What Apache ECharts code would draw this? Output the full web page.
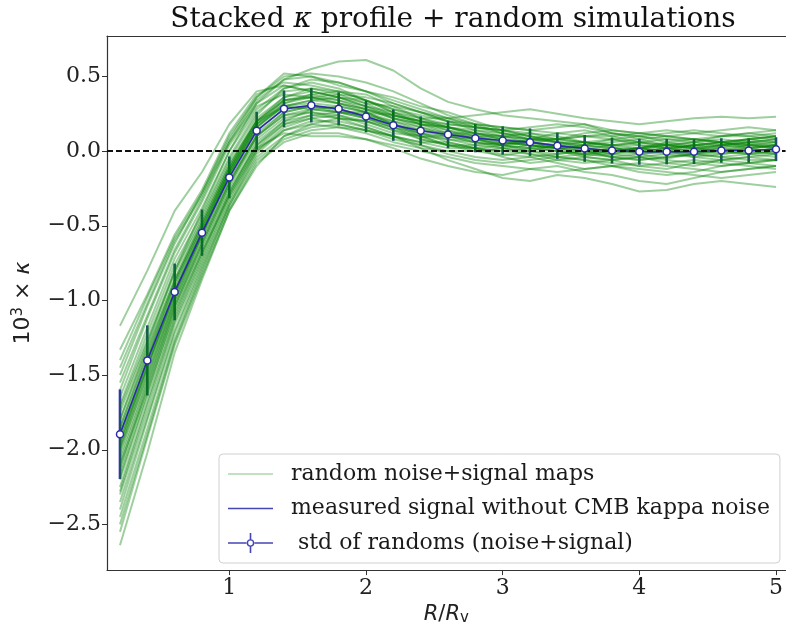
<!DOCTYPE html>
<html>
<head>
<meta charset="utf-8">
<script src="https://cdn.jsdelivr.net/npm/echarts@6/dist/echarts.min.js"></script>
<style>
html,body{margin:0;padding:0;background:#fff;}
#chart{width:786px;height:631px;}
</style>
</head>
<body>
<div id="chart"></div>
<script>
// ---------------- data ----------------
const xVals = [0.2,0.4,0.6,0.8,1.0,1.2,1.4,1.6,1.8,2.0,2.2,2.4,2.6,2.8,3.0,3.2,3.4,3.6,3.8,4.0,4.2,4.4,4.6,4.8,5.0];
const measured = [-1.896,-1.402,-0.943,-0.546,-0.176,0.136,0.283,0.307,0.283,0.232,0.174,0.136,0.111,0.087,0.071,0.060,0.036,0.018,0.004,-0.004,-0.004,-0.004,0.004,0.004,0.013];
const stdRandoms = [0.30,0.235,0.19,0.155,0.14,0.127,0.123,0.115,0.111,0.106,0.105,0.097,0.092,0.095,0.095,0.092,0.088,0.09,0.087,0.087,0.085,0.083,0.082,0.082,0.08];
const randomMaps = [
 [-1.17,-0.80,-0.40,-0.14,0.18,0.40,0.44,0.40,0.36,0.30,0.22,0.18,0.14,0.08,0.05,0.06,0.02,-0.03,-0.02,0.02,0.05,0.03,0.00,0.04,0.06],
 [-2.64,-2.02,-1.35,-0.86,-0.40,-0.10,0.10,0.18,0.22,0.20,0.16,0.10,0.04,0.00,-0.03,0.00,0.04,0.06,0.03,-0.02,-0.05,-0.02,0.03,0.05,0.02],
 [-1.80,-1.30,-0.80,-0.40,0.00,0.32,0.48,0.55,0.60,0.61,0.54,0.42,0.33,0.28,0.24,0.22,0.20,0.18,0.12,0.10,0.12,0.14,0.12,0.10,0.12],
 [-2.10,-1.60,-1.08,-0.68,-0.30,0.02,0.12,0.10,0.10,0.08,0.02,-0.05,-0.10,-0.14,-0.16,-0.12,-0.10,-0.14,-0.16,-0.20,-0.22,-0.18,-0.14,-0.12,-0.10],
 [-1.95,-1.40,-0.92,-0.52,-0.12,0.20,0.34,0.36,0.34,0.30,0.26,0.22,0.22,0.24,0.26,0.28,0.25,0.22,0.20,0.18,0.20,0.22,0.23,0.22,0.23],
 [-2.00,-1.50,-1.00,-0.60,-0.20,0.10,0.24,0.26,0.22,0.16,0.10,0.02,-0.06,-0.12,-0.18,-0.20,-0.16,-0.18,-0.22,-0.27,-0.26,-0.22,-0.20,-0.22,-0.24],
 [-1.70,-1.22,-0.76,-0.42,-0.04,0.26,0.40,0.42,0.38,0.32,0.24,0.18,0.16,0.12,0.10,0.12,0.10,0.06,0.04,0.06,0.08,0.06,0.04,0.06,0.08],
 [-2.25,-1.68,-1.12,-0.70,-0.28,0.06,0.20,0.24,0.22,0.20,0.14,0.10,0.08,0.04,0.02,0.00,-0.02,0.00,-0.04,-0.06,-0.04,-0.02,0.00,-0.02,-0.04],
 [-1.88,-1.38,-0.88,-0.50,-0.12,0.18,0.30,0.34,0.36,0.34,0.28,0.22,0.18,0.16,0.14,0.10,0.06,0.04,0.06,0.08,0.10,0.08,0.06,0.08,0.10],
 [-2.05,-1.52,-1.00,-0.58,-0.20,0.12,0.26,0.30,0.28,0.22,0.18,0.12,0.08,0.06,0.04,0.02,0.00,-0.02,-0.04,-0.02,0.00,0.02,0.00,-0.02,0.00],
 [-1.60,-1.12,-0.68,-0.34,0.04,0.30,0.38,0.36,0.32,0.28,0.22,0.16,0.10,0.06,0.04,0.08,0.12,0.14,0.10,0.06,0.02,0.00,0.04,0.08,0.10],
 [-2.30,-1.74,-1.16,-0.74,-0.32,0.00,0.16,0.22,0.24,0.20,0.14,0.08,0.04,0.02,0.00,0.02,0.04,0.02,-0.02,-0.04,-0.08,-0.10,-0.06,-0.04,-0.06],
 [-1.92,-1.44,-0.96,-0.56,-0.16,0.16,0.32,0.38,0.40,0.38,0.30,0.22,0.16,0.10,0.06,0.04,0.02,0.04,0.08,0.10,0.06,0.04,0.06,0.04,0.02],
 [-2.15,-1.58,-1.04,-0.64,-0.24,0.08,0.22,0.26,0.24,0.18,0.12,0.10,0.10,0.08,0.04,0.00,-0.04,-0.06,-0.08,-0.10,-0.08,-0.06,-0.08,-0.10,-0.12],
 [-1.50,-1.04,-0.62,-0.28,0.10,0.36,0.52,0.50,0.46,0.40,0.34,0.28,0.22,0.18,0.16,0.14,0.12,0.10,0.10,0.12,0.14,0.12,0.10,0.12,0.14],
 [-2.45,-1.86,-1.26,-0.80,-0.36,-0.04,0.10,0.16,0.18,0.14,0.08,0.04,0.00,-0.04,-0.06,-0.04,-0.08,-0.12,-0.10,-0.08,-0.10,-0.12,-0.14,-0.12,-0.10],
 [-1.85,-1.34,-0.86,-0.48,-0.10,0.22,0.36,0.40,0.36,0.30,0.24,0.20,0.14,0.10,0.10,0.08,0.06,0.02,0.00,-0.02,0.00,0.04,0.06,0.04,0.04],
 [-2.02,-1.48,-0.98,-0.56,-0.16,0.14,0.28,0.30,0.26,0.24,0.20,0.14,0.10,0.08,0.06,0.04,0.02,0.04,0.02,0.00,0.02,0.04,0.02,0.04,0.02],
 [-1.75,-1.28,-0.82,-0.46,-0.08,0.20,0.30,0.28,0.26,0.26,0.24,0.20,0.16,0.12,0.08,0.06,0.08,0.10,0.08,0.04,0.02,0.04,0.06,0.08,0.06],
 [-2.18,-1.62,-1.06,-0.66,-0.26,0.04,0.20,0.28,0.30,0.26,0.18,0.12,0.06,0.02,-0.02,-0.04,-0.02,0.00,0.02,0.00,-0.02,-0.04,-0.02,0.00,-0.02],
 [-1.98,-1.44,-0.94,-0.54,-0.14,0.18,0.34,0.38,0.34,0.28,0.22,0.18,0.16,0.14,0.12,0.10,0.06,0.04,0.02,0.02,0.04,0.06,0.08,0.06,0.04],
 [-1.65,-1.18,-0.72,-0.38,0.00,0.28,0.42,0.46,0.42,0.34,0.26,0.18,0.12,0.08,0.04,0.02,0.00,-0.04,-0.06,-0.04,-0.02,0.00,0.02,0.00,-0.02],
 [-2.35,-1.78,-1.20,-0.76,-0.34,0.00,0.14,0.18,0.16,0.12,0.06,0.02,0.00,0.00,0.02,0.04,0.02,0.00,-0.02,0.00,0.02,0.00,-0.02,0.00,0.02],
 [-1.90,-1.40,-0.90,-0.52,-0.14,0.16,0.30,0.32,0.30,0.26,0.20,0.16,0.12,0.10,0.08,0.06,0.04,0.02,0.00,0.02,0.04,0.02,0.00,0.02,0.04],
 [-2.08,-1.54,-1.02,-0.62,-0.22,0.10,0.26,0.30,0.28,0.24,0.18,0.14,0.12,0.12,0.10,0.08,0.08,0.06,0.04,0.02,0.00,-0.02,0.00,0.02,0.04],
 [-1.80,-1.32,-0.86,-0.48,-0.10,0.20,0.34,0.36,0.32,0.26,0.18,0.10,0.04,0.02,0.00,-0.02,-0.04,-0.02,0.00,0.02,0.00,-0.02,-0.04,-0.02,0.00],
 [-1.33,-0.96,-0.56,-0.26,0.12,0.38,0.46,0.44,0.40,0.34,0.28,0.24,0.20,0.18,0.16,0.14,0.16,0.18,0.14,0.12,0.10,0.12,0.14,0.16,0.14],
 [-2.55,-1.92,-1.30,-0.84,-0.40,-0.08,0.06,0.12,0.12,0.08,0.04,0.00,-0.04,-0.08,-0.10,-0.12,-0.14,-0.12,-0.10,-0.12,-0.14,-0.16,-0.18,-0.16,-0.14],
 [-1.45,-1.02,-0.60,-0.30,0.06,0.34,0.48,0.50,0.44,0.40,0.36,0.30,0.26,0.20,0.14,0.10,0.08,0.10,0.12,0.08,0.04,0.06,0.10,0.12,0.10],
 [-2.40,-1.80,-1.22,-0.78,-0.36,-0.02,0.14,0.20,0.20,0.16,0.10,0.06,0.06,0.02,-0.04,-0.08,-0.06,-0.04,-0.06,-0.10,-0.12,-0.08,-0.06,-0.08,-0.06],
 [-1.72,-1.26,-0.80,-0.44,-0.06,0.24,0.42,0.48,0.46,0.40,0.32,0.26,0.22,0.16,0.12,0.08,0.06,0.06,0.08,0.06,0.04,0.02,0.04,0.06,0.08],
 [-2.20,-1.64,-1.10,-0.68,-0.28,0.04,0.18,0.22,0.18,0.14,0.10,0.06,0.02,0.02,0.04,0.06,0.04,0.00,-0.04,-0.06,-0.04,-0.02,-0.04,-0.06,-0.06],
 [-1.55,-1.10,-0.66,-0.32,0.06,0.32,0.44,0.40,0.36,0.32,0.30,0.26,0.20,0.16,0.14,0.16,0.18,0.16,0.12,0.10,0.08,0.08,0.10,0.10,0.08],
 [-2.50,-1.90,-1.28,-0.82,-0.38,-0.06,0.08,0.14,0.16,0.14,0.10,0.04,-0.02,-0.06,-0.08,-0.06,-0.04,-0.06,-0.10,-0.14,-0.16,-0.14,-0.10,-0.08,-0.10],
 [-1.95,-1.44,-0.94,-0.54,-0.14,0.18,0.32,0.36,0.38,0.36,0.32,0.26,0.20,0.14,0.10,0.06,0.02,0.00,0.00,0.02,0.06,0.08,0.06,0.02,0.00],
 [-1.85,-1.36,-0.88,-0.50,-0.12,0.20,0.36,0.42,0.40,0.34,0.26,0.20,0.18,0.16,0.14,0.12,0.08,0.06,0.04,0.04,0.02,0.04,0.04,0.02,0.04],
 [-2.12,-1.56,-1.04,-0.62,-0.22,0.10,0.24,0.28,0.26,0.22,0.16,0.08,0.04,0.04,0.06,0.04,0.00,-0.02,0.00,0.02,0.00,-0.04,-0.06,-0.04,-0.02],
 [-1.40,-0.98,-0.58,-0.28,0.08,0.36,0.50,0.52,0.50,0.46,0.40,0.32,0.24,0.18,0.12,0.08,0.08,0.12,0.14,0.12,0.10,0.08,0.06,0.08,0.10],
 [-2.28,-1.70,-1.14,-0.72,-0.30,0.02,0.18,0.24,0.26,0.22,0.16,0.12,0.10,0.06,0.02,-0.02,-0.06,-0.08,-0.06,-0.04,-0.06,-0.08,-0.10,-0.08,-0.06],
 [-1.98,-1.46,-0.96,-0.56,-0.16,0.16,0.30,0.34,0.32,0.28,0.24,0.20,0.16,0.12,0.08,0.04,0.02,0.02,0.04,0.06,0.04,0.02,0.04,0.06,0.06]
];
const xTicks = [1,2,3,4,5];
const yTicks = [-2.5,-2.0,-1.5,-1.0,-0.5,0.0,0.5];
const legendNames = ['random noise+signal maps','measured signal without CMB kappa noise',' std of randoms (noise+signal)'];

// ---------------- chart ----------------
const BLUE = '#2b2ba6';
const GREEN = '#008000';
const SERIF = "'DejaVu Serif', serif";
const SANS = "'DejaVu Sans', sans-serif";

const chart = echarts.init(document.getElementById('chart'), null, {renderer:'canvas'});

const errData = xVals.map((x,i)=>[x, measured[i], stdRandoms[i]]);
const series = [];
series.push({
  name: legendNames[2], type:'custom', z:1, silent:true,
  data: errData,
  renderItem: function(params, api){
    const x = api.value(0), y = api.value(1), e = api.value(2);
    const p1 = api.coord([x, y - e]);
    const p2 = api.coord([x, y + e]);
    return {type:'line', shape:{x1:p1[0], y1:p1[1], x2:p2[0], y2:p2[1]},
      style:{stroke: params.dataIndex === 0 ? '#3434b0' : '#1f4f70', lineWidth:2.6}};
  }
});
randomMaps.forEach(function(arr){
  series.push({
    name: legendNames[0], type:'line', z:2, silent:true, symbol:'none',
    data: xVals.map((x,i)=>[x, arr[i]]),
    lineStyle:{color:GREEN, width:2, opacity:0.38},
    itemStyle:{color:GREEN}
  });
});
series.push({
  name:'zero', type:'line', z:3, silent:true, symbol:'none', data:[],
  markLine:{symbol:['none','none'], silent:true, label:{show:false}, animation:false,
    lineStyle:{color:'#111', type:[6,3], width:1.8}, data:[{yAxis:0}]}
});
series.push({
  name: legendNames[1], type:'line', z:4, silent:true, symbol:'none',
  data: xVals.map((x,i)=>[x, measured[i]]),
  lineStyle:{color:BLUE, width:1.6}, itemStyle:{color:BLUE}
});
series.push({
  name: legendNames[2], type:'scatter', z:5, silent:true,
  data: xVals.map((x,i)=>[x, measured[i]]),
  symbol:'circle', symbolSize:7,
  itemStyle:{color:'#ffffff', borderColor:BLUE, borderWidth:1.5, opacity:1}
});

const ringIcon = 'path://M0,9.2 L19,9.2 L19,10.8 L0,10.8 Z M26,9.2 L45,9.2 L45,10.8 L26,10.8 Z M21.7,0 L23.3,0 L23.3,6.3 L21.7,6.3 Z M21.7,13.7 L23.3,13.7 L23.3,20 L21.7,20 Z M26.3,10 A3.8,3.8 0 1,0 18.7,10 A3.8,3.8 0 1,0 26.3,10 Z M24.9,10 A2.4,2.4 0 1,1 20.1,10 A2.4,2.4 0 1,1 24.9,10 Z';

const fmt = v => (v < 0 ? '\u2212' : '') + Math.abs(v).toFixed(1);

chart.setOption({
  animation:false,
  backgroundColor:'#ffffff',
  title:{
    text:'{n|Stacked }{k|κ}{n| profile + random simulations}',
    left:448, top:1, textAlign:'center',
    textStyle:{fontFamily:SERIF, fontSize:28, fontWeight:'normal', color:'#111',
      rich:{n:{fontFamily:SERIF, fontSize:28, color:'#111'}, k:{fontFamily:SERIF, fontSize:28, fontStyle:'italic', color:'#111'}}}
  },
  legend:{
    orient:'vertical', left:219, top:454, selectedMode:false,
    padding:[9,10,9,8], itemWidth:45, itemHeight:20, itemGap:12.5,
    backgroundColor:'rgba(255,255,255,0.85)', borderColor:'#d0d0d0', borderWidth:1, borderRadius:4,
    textStyle:{fontFamily:SERIF, fontSize:22, color:'#1a1a1a', padding:[0,0,0,13]},
    data:[
      {name:legendNames[0], itemStyle:{opacity:0}, lineStyle:{color:'#c2e1c2', width:2, opacity:1}},
      {name:legendNames[1], itemStyle:{opacity:0}, lineStyle:{color:'#4545b5', width:1.6, opacity:1}},
      {name:legendNames[2], icon:ringIcon, itemStyle:{color:'#4545b5', opacity:1}}
    ]
  },
  grid:{left:107, right:-4, top:36, bottom:60, containLabel:false},
  xAxis:[{
    type:'value', min:0.105, max:5.07,
    name:'{i|R}{n|/}{i|R}{s|v}', nameLocation:'middle', nameGap:32,
    nameTextStyle:{fontFamily:SANS, fontSize:21, color:'#222',
      rich:{i:{fontFamily:SANS, fontSize:21, fontStyle:'italic', color:'#222'},
            n:{fontFamily:SANS, fontSize:21, color:'#222'},
            s:{fontFamily:SANS, fontSize:15, color:'#222', padding:[8,0,0,0]}}},
    axisLine:{show:true, onZero:false, lineStyle:{color:'#333', width:1.2}},
    axisTick:{show:true, length:5, inside:false, lineStyle:{color:'#333'}, customValues:xTicks},
    axisLabel:{fontFamily:SERIF, fontSize:22, color:'#222', margin:7, customValues:xTicks, formatter:v=>String(v)},
    splitLine:{show:false}
  },{
    type:'value', position:'top', min:0.105, max:5.07,
    axisLine:{show:true, onZero:false, lineStyle:{color:'#333', width:1.2}},
    axisTick:{show:false}, axisLabel:{show:false}, splitLine:{show:false}
  }],
  yAxis:{
    type:'value', min:-2.806, max:0.771,
    name:'{n|10}{sup|3}{n| × }{k|κ}', nameLocation:'middle', nameGap:72, nameRotate:90,
    nameTextStyle:{fontFamily:SANS, fontSize:22, color:'#222',
      rich:{n:{fontFamily:SANS, fontSize:22, color:'#222'},
            sup:{fontFamily:SANS, fontSize:15, color:'#222', padding:[0,0,9,0]},
            k:{fontFamily:SANS, fontSize:22, fontStyle:'italic', color:'#222'}}},
    axisLine:{show:true, onZero:false, lineStyle:{color:'#333', width:1.2}},
    axisTick:{show:true, length:5, inside:false, lineStyle:{color:'#333'}, customValues:yTicks},
    axisLabel:{fontFamily:SERIF, fontSize:22, color:'#222', margin:6, customValues:yTicks, formatter:fmt},
    splitLine:{show:false}
  },
  series: series
});
</script>
</body>
</html>
